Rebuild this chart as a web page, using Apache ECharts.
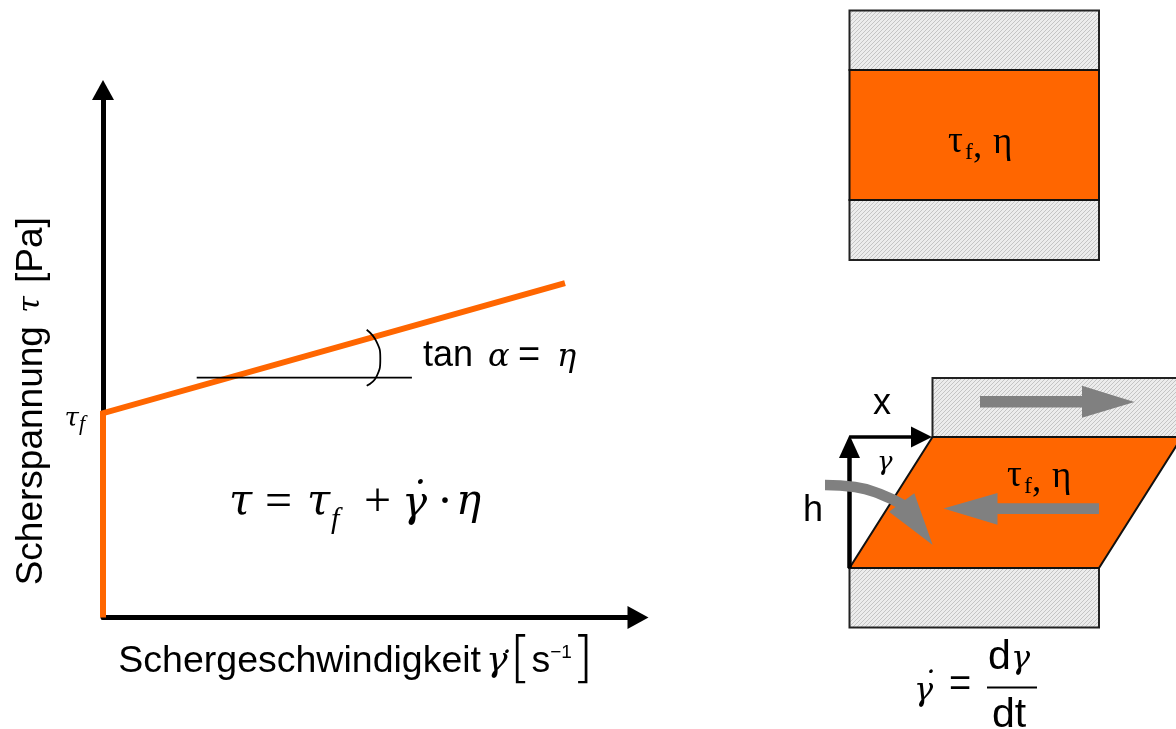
<!DOCTYPE html>
<html>
<head>
<meta charset="utf-8">
<style>
  html, body { margin: 0; padding: 0; background: #fff; }
  #chart { width: 1176px; height: 729px; }
</style>
</head>
<body>
<div id="chart"></div>
<script src="https://cdn.jsdelivr.net/npm/echarts@6/dist/echarts.min.js"></script>
<script>
// flow curve, axis units roughly 0-100
const shearRate = [0, 0, 84.8]
const shearStress = [0, 38, 62.2]
const tauFTick = [38]
// horizontal reference line and angle arc
const tangentX = [17.2, 56.7]
const tangentY = [44.6, 44.6]
const arcX = [48.4, 50.2, 50.9, 50.2, 48.4]
const arcY = [53.5, 51.3, 48.2, 44.8, 43.1]

// sketch on the right, units are the sketch grid (0-1176 / 0-729, y down)
const plates = [
  [[849.5, 10.5], [1099, 10.5], [1099, 70], [849.5, 70]],
  [[849.5, 200], [1099, 200], [1099, 260], [849.5, 260]],
  [[932.5, 378], [1190, 378], [1190, 437], [932.5, 437]],
  [[849.5, 568], [1099, 568], [1099, 627.5], [849.5, 627.5]]
]
const fluid = [
  [[849.5, 70], [1099, 70], [1099, 200], [849.5, 200]],
  [[932.5, 437], [1182, 437], [1099, 568], [849.5, 568]]
]
const blackHeads = [
  [[849.5, 435], [860, 458], [839, 458]],
  [[932, 437], [911, 426.5], [911, 447.5]]
]
const blackLines = [
  [[849.5, 568], [849.5, 456]],
  [[849.5, 437], [913, 437]]
]
const grayArrows = [
  [[980, 396], [1082, 396], [1082, 385.7], [1134.5, 402], [1082, 417.7], [1082, 407.4], [980, 407.4]],
  [[1099, 503.3], [997.5, 503.3], [997.5, 493], [943.5, 508.5], [997.5, 524.7], [997.5, 514], [1099, 514]],
  [[914.3, 493.3], [889, 511.7], [932.7, 545]]
]
const curveX = [825, 855, 880, 905]
const curveY = [485, 487, 494, 506]
const fracX = [987, 1037]
const fracY = [687.5, 687.5]

const notes = [
  ['τ', 229, 503, 'mathBig'], ['=', 265, 503, 'mathBigUp'], ['τ', 307, 503, 'mathBig'], ['f', 331, 520, 'mathSub'],
  ['+', 364, 503, 'mathBigUp'], ['γ', 402, 505, 'mathBig'], ['˙', 406, 501, 'mathBig'], ['·', 437, 503, 'mathBigUp'], ['η', 456, 503, 'mathBig'],
  ['tan', 423, 356, 'sans'], ['α', 488, 358, 'mathMid'], ['=', 518, 357, 'sansUp'], ['η', 557, 358, 'mathMid'],
  ['˙', 496, 666, 'mathMid'],
  ['τ', 948, 142, 'symbol'], ['f', 965, 153, 'symbolSub'], [',', 973, 147, 'symbol'], ['η', 993, 143, 'symbol'],
  ['τ', 1007, 476, 'symbol'], ['f', 1024, 487, 'symbolSub'], [',', 1032, 481, 'symbol'], ['η', 1052, 477, 'symbol'],
  ['x', 873, 404, 'sans'], ['h', 803, 511, 'sans'], ['γ', 877, 463, 'mathSmall'],
  ['γ', 914, 692, 'mathMid'], ['˙', 920, 686, 'mathMid'], ['=', 949, 686, 'sansUp'], ['d', 988, 658, 'sansBig'], ['γ', 1011, 660, 'mathMid'], ['dt', 992, 716, 'sansBig']
]

const ORANGE = '#FF6600'
const GRAY = '#808080'
const INK = '#000'
const SERIF = '"Liberation Serif", serif'
const MATH = '"DejaVu Serif", serif'
const SANS = '"Liberation Sans", Arial, sans-serif'
const noteStyles = {
  mathBig: { font: 'italic 42px ' + MATH },
  mathBigUp: { font: '48px ' + SERIF },
  mathSub: { font: 'italic 30px ' + SERIF },
  mathMid: { font: 'italic 32px ' + MATH },
  mathSmall: { font: 'italic 26px ' + MATH },
  sans: { font: '36px ' + SANS },
  sansBig: { font: '41px ' + SANS },
  sansUp: { font: '38px ' + SANS },
  symbol: { font: '37px ' + SERIF },
  symbolSub: { font: '24px ' + SERIF }
}

function hatch() {
  const c = document.createElement('canvas')
  c.width = 4
  c.height = 4
  const g = c.getContext('2d')
  g.fillStyle = '#ececec'
  g.fillRect(0, 0, 4, 4)
  g.strokeStyle = '#c4c4c4'
  g.lineWidth = 1
  g.beginPath()
  g.moveTo(-1, 1)
  g.lineTo(1, -1)
  g.moveTo(-1, 5)
  g.lineTo(5, -1)
  g.moveTo(3, 5)
  g.lineTo(5, 3)
  g.stroke()
  return c
}

function polygons(list, style, z) {
  return {
    type: 'custom',
    xAxisIndex: 1,
    yAxisIndex: 1,
    coordinateSystem: 'cartesian2d',
    silent: true,
    z: z,
    data: list.map((p, i) => [i, 0]),
    renderItem: (params, api) => ({
      type: 'polygon',
      shape: { points: list[params.dataIndex].map((p) => api.coord(p)) },
      style: style
    })
  }
}

function sketchLine(points, color, width, smooth, z) {
  return {
    type: 'line',
    xAxisIndex: 1,
    yAxisIndex: 1,
    data: points,
    symbol: 'none',
    smooth: smooth,
    silent: true,
    clip: false,
    z: z,
    lineStyle: { color: color, width: width, cap: 'butt' }
  }
}

const chart = echarts.init(document.getElementById('chart'), null, { renderer: 'canvas' })
const plateFill = { image: hatch(), repeat: 'repeat' }

const option = {
  animation: false,
  backgroundColor: '#fff',
  grid: [
    // the arrow heads sit centred on the axis ends, so the ends stop short of the tips
    { left: 103, right: 538, top: 90, bottom: 111.5, outerBoundsMode: 'none' },
    { left: 0, top: 0, width: 1176, height: 729, outerBoundsMode: 'none' }
  ],
  xAxis: [
    {
      type: 'value',
      min: 0,
      max: 98.2,
      name: '{a|Schergeschwindigkeit}{m|γ}{b|[}{a|s}{s|−1}{b|]}',
      nameLocation: 'middle',
      nameGap: 16,
      nameTextStyle: {
        padding: [0, 29, 0, 0],
        rich: {
          a: { fontFamily: SANS, fontSize: 37.5, color: '#000' },
          m: { fontFamily: MATH, fontStyle: 'italic', fontSize: 36, color: '#000', padding: [0, 2, 0, 5] },
          b: { fontFamily: 'DejaVu Sans', fontSize: 56, fontWeight: 200, color: '#000' },
          s: { fontFamily: SANS, fontSize: 19, color: '#000', padding: [0, 0, 18, 0] }
        }
      },
      axisLine: {
        lineStyle: { color: '#000', width: 5 },
        symbol: ['none', 'triangle'],
        symbolSize: [23, 21]
      },
      axisTick: { show: false },
      axisLabel: { show: false },
      splitLine: { show: false }
    },
    { gridIndex: 1, type: 'value', min: 0, max: 1176, show: false }
  ],
  yAxis: [
    {
      type: 'value',
      min: 0,
      max: 98.1,
      name: '{a|Scherspannung }{m|τ}{a| [Pa]}',
      nameLocation: 'middle',
      nameGap: 53,
      nameRotate: 90,
      nameTextStyle: {
        padding: [0, 95, 0, 0],
        rich: {
          a: { fontFamily: SANS, fontSize: 37, color: '#000' },
          m: { fontFamily: MATH, fontStyle: 'italic', fontSize: 30, color: '#000', padding: [0, 3, 0, 3] }
        }
      },
      axisLine: {
        lineStyle: { color: '#000', width: 5 },
        symbol: ['none', 'triangle'],
        symbolSize: [22, 20]
      },
      axisTick: { show: false },
      axisLabel: {
        customValues: tauFTick,
        margin: 18,
        padding: [12, 0, 0, 0],
        formatter: () => '{t|τ}{f|f}',
        rich: {
          t: { fontFamily: MATH, fontStyle: 'italic', fontSize: 26, color: '#000' },
          f: { fontFamily: SERIF, fontStyle: 'italic', fontSize: 22, color: '#000', padding: [10, 0, 0, 0] }
        }
      },
      splitLine: { show: false }
    },
    { gridIndex: 1, type: 'value', min: 0, max: 729, inverse: true, show: false }
  ],
  series: [
    {
      type: 'line',
      name: 'Fließkurve',
      data: shearRate.map((x, i) => [x, shearStress[i]]),
      symbol: 'none',
      clip: false,
      silent: true,
      z: 5,
      lineStyle: { color: ORANGE, width: 6, cap: 'butt', join: 'miter' }
    },
    {
      type: 'line',
      data: tangentX.map((x, i) => [x, tangentY[i]]),
      symbol: 'none',
      silent: true,
      z: 6,
      lineStyle: { color: INK, width: 1.8 }
    },
    {
      type: 'line',
      data: arcX.map((x, i) => [x, arcY[i]]),
      symbol: 'none',
      smooth: true,
      silent: true,
      z: 6,
      lineStyle: { color: INK, width: 1.8 }
    },
    polygons(plates, { fill: plateFill, stroke: '#222', lineWidth: 2 }, 2),
    polygons(fluid, { fill: ORANGE, stroke: '#111', lineWidth: 2 }, 3),
    sketchLine(blackLines[0], '#000', 4.5, false, 4),
    sketchLine(blackLines[1], '#000', 3.5, false, 4),
    polygons(blackHeads, { fill: '#000' }, 4),
    polygons(grayArrows, { fill: GRAY }, 5),
    sketchLine(curveX.map((x, i) => [x, curveY[i]]), GRAY, 10.5, true, 5),
    sketchLine(fracX.map((x, i) => [x, fracY[i]]), '#000', 2, false, 5),
    {
      type: 'custom',
      xAxisIndex: 1,
      yAxisIndex: 1,
      coordinateSystem: 'cartesian2d',
      silent: true,
      z: 7,
      data: notes.map((n) => [n[1], n[2]]),
      renderItem: (params, api) => {
        const n = notes[params.dataIndex]
        const p = api.coord([n[1], n[2]])
        return {
          type: 'text',
          x: p[0],
          y: p[1],
          style: {
            text: n[0],
            font: noteStyles[n[3]].font,
            fill: '#000',
            align: 'left',
            verticalAlign: 'middle'
          }
        }
      }
    }
  ]
}
chart.setOption(option)
window.addEventListener('resize', () => chart.resize())
</script>
</body>
</html>
